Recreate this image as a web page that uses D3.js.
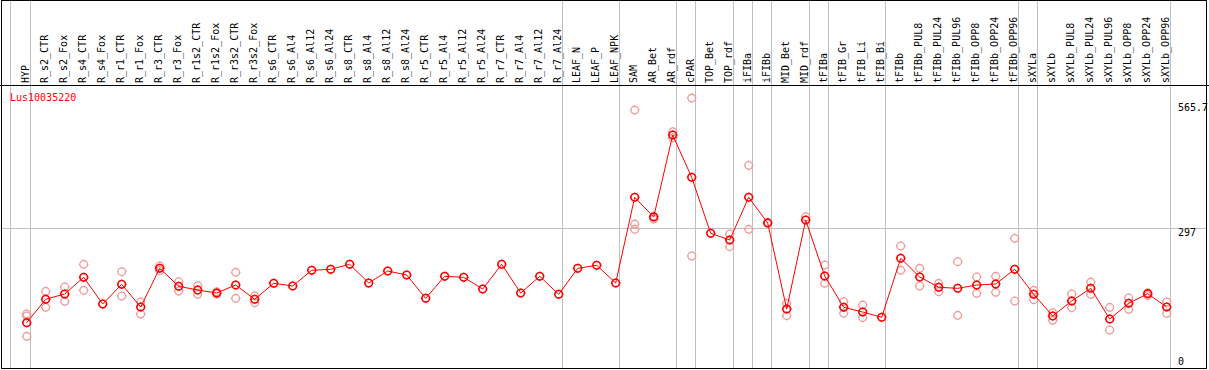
<!DOCTYPE html>
<html>
<head>
<meta charset="utf-8">
<style>
    body { margin: 0; background: #fff; }
    svg { font: 10px "DejaVu Sans Mono", monospace; display: block; }
    .lab { fill: #000; }
    .sep { stroke: #c0c0c0; stroke-width: 1px; shape-rendering: crispEdges; }
    .frame { fill: none; stroke: #000; stroke-width: 1px; shape-rendering: crispEdges; }
    .line { fill: none; stroke: #f00; stroke-width: 1px; }
</style>
<script src="https://cdn.jsdelivr.net/npm/d3@7"></script>
</head>
<body>
<div id="chart"></div>
<script>
    var geneName = "Lus10035220";

    var labels = ["HYP", "R_s2_CTR", "R_s2_Fox", "R_s4_CTR", "R_s4_Fox", "R_r1_CTR", "R_r1_Fox",
        "R_r3_CTR", "R_r3_Fox", "R_r1s2_CTR", "R_r1s2_Fox", "R_r3s2_CTR", "R_r3s2_Fox",
        "R_s6_CTR", "R_s6_Al4", "R_s6_Al12", "R_s6_Al24", "R_s8_CTR", "R_s8_Al4", "R_s8_Al12", "R_s8_Al24",
        "R_r5_CTR", "R_r5_Al4", "R_r5_Al12", "R_r5_Al24", "R_r7_CTR", "R_r7_Al4", "R_r7_Al12", "R_r7_Al24",
        "LEAF_N", "LEAF_P", "LEAF_NPK", "SAM", "AR_Bet", "AR_rdf", "cPAR", "TOP_Bet", "TOP_rdf",
        "iFIBa", "iFIBb", "MID_Bet", "MID_rdf", "tFIBa", "tFIB_Gr", "tFIB_Li", "tFIB_Bi", "tFIBb",
        "tFIBb_PUL8", "tFIBb_PUL24", "tFIBb_PUL96", "tFIBb_OPP8", "tFIBb_OPP24", "tFIBb_OPP96",
        "sXYLa", "sXYLb", "sXYLb_PUL8", "sXYLb_PUL24", "sXYLb_PUL96", "sXYLb_OPP8", "sXYLb_OPP24", "sXYLb_OPP96"];

    // mean expression per sample
    var means = [93.0, 143.3, 154.7, 190.5, 133.2, 175.5, 126.7, 209.9, 171.2, 163.3, 156.8, 174, 143.3,
        177.7, 171.9, 205.6, 207.7, 218.5, 178.3, 204.1, 195.5, 145.4, 192.7, 190.5, 165.4, 218.5, 156.8, 192.7, 154,
        209.9, 216.3, 178.3, 362.4, 320.1, 496.2, 405.4, 285.1, 270.7, 362.4, 307.2, 122.4, 313.6,
        193.3, 126.1, 116, 104.6, 231.4, 191.2, 169.1, 166.9, 174, 176.2, 207.7,
        154, 107.4, 139.6, 166.9, 101, 134.7, 155.3, 126.7];

    // individual replicates
    var replicates = [[111.7, 107.4, 63.8], [160.5, 126.1], [169.7, 139], [218.5, 162.6], [], [202.6, 150.4], [137.5, 111.7],
        [214.8, 204.7], [181.1, 161.1], [172.5, 154], [159.6, 154.7], [201.3, 145.4], [150.4, 136],
        [], [], [], [], [], [], [], [],
        [], [], [], [], [], [], [], [],
        [], [], [], [549.9, 305, 293.7], [315.8, 322], [503.3, 490.4], [575.7, 236.3], [], [283.6, 256.3],
        [431.1, 293.7], [308.7], [134.7, 108.1], [320.7], [217, 177.7], [138.1, 113.2], [131, 103.8], [], [257.8, 205.6],
        [209.9, 171.9], [177.7, 159.6], [224.1, 108.9], [191.2, 156.2], [192.7, 158.3], [274.3, 139.6],
        [162.6, 142.4], [114.5, 98.2], [154.7, 125.2], [180.4, 154], [126.1, 77.3], [146.1, 121.8], [157.5, 151], [137.5, 113.2]];

    // last sample of each group (separators drawn after these)
    var groupEnds = ["HYP", "R_r7_Al24", "LEAF_NPK", "AR_rdf", "cPAR", "TOP_rdf", "iFIBa", "iFIBb",
        "MID_rdf", "tFIBa", "tFIB_Bi", "tFIBb_OPP96", "sXYLa", "sXYLb_OPP96"];

    var yTicks = [0, 297, 565.7];

    var width = 1209, height = 370;

    var x = d3.scalePoint()
        .domain(labels)
        .range([26.7, 1166.7]);

    var y = d3.scaleLinear()
        .domain([0, 565.7])
        .range([366, 102.7]);

    var svg = d3.select("#chart").append("svg")
        .attr("width", width)
        .attr("height", height);

    // separators
    svg.append("line").attr("class", "sep")
        .attr("x1", 10.5).attr("x2", 10.5).attr("y1", 0).attr("y2", 368);
    svg.selectAll(".vsep").data(groupEnds).enter().append("line")
        .attr("class", "sep")
        .attr("x1", function (d) { return Math.round(x(d) + 3.5) + 0.5; })
        .attr("x2", function (d) { return Math.round(x(d) + 3.5) + 0.5; })
        .attr("y1", 0).attr("y2", 368);

    svg.selectAll(".hgrid").data([297]).enter().append("line")
        .attr("class", "sep")
        .attr("x1", 1).attr("x2", 1207)
        .attr("y1", function (d) { return Math.round(y(d)) + 0.5; })
        .attr("y2", function (d) { return Math.round(y(d)) + 0.5; });

    // frame
    svg.append("rect").attr("class", "frame")
        .attr("x", 1.5).attr("y", 0.5).attr("width", 1205).attr("height", 367.5);
    svg.append("line").attr("class", "frame")
        .attr("x1", 0).attr("x2", width).attr("y1", 85.5).attr("y2", 85.5);

    // rotated sample labels
    svg.selectAll(".lab").data(labels).enter().append("text")
        .attr("class", "lab")
        .attr("transform", function (d) { return "translate(" + (x(d) + 1.8) + ",83) rotate(-90)"; })
        .text(function (d) { return d; });

    // y labels on the right
    svg.selectAll(".ylab").data(yTicks).enter().append("text")
        .attr("x", 1178)
        .attr("y", function (d) { return d === 0 ? 365 : y(d) + 8; })
        .text(function (d) { return d; });

    svg.append("text")
        .attr("x", 10).attr("y", 101)
        .attr("fill", "#f00")
        .text(geneName);

    // marker: open circle with four small nubs
    function marker(r) {
        var p = d3.path();
        p.moveTo(r, 0);
        p.arc(0, 0, r, 0, 2 * Math.PI);
        [[0, -1], [0, 1], [-1, 0], [1, 0]].forEach(function (v) {
            p.moveTo(v[0] * r, v[1] * r);
            p.lineTo(v[0] * (r + 1), v[1] * (r + 1));
        });
        return p.toString();
    }

    var reps = [];
    replicates.forEach(function (list, i) {
        list.forEach(function (v) { reps.push({ k: labels[i], v: v }); });
    });

    svg.selectAll(".rep").data(reps).enter().append("path")
        .attr("d", marker(3.8))
        .attr("transform", function (d) { return "translate(" + x(d.k) + "," + y(d.v) + ")"; })
        .attr("fill", "none")
        .attr("stroke", "#f09a9a")
        .attr("stroke-width", 1.3);

    var line = d3.line()
        .x(function (d, i) { return x(labels[i]); })
        .y(function (d) { return y(d); });

    svg.append("path")
        .datum(means)
        .attr("class", "line")
        .attr("d", line);

    svg.selectAll(".mean").data(means).enter().append("path")
        .attr("d", marker(3.8))
        .attr("transform", function (d, i) { return "translate(" + x(labels[i]) + "," + y(d) + ")"; })
        .attr("fill", "none")
        .attr("stroke", "#f00")
        .attr("stroke-width", 1.6);
</script>
</body>
</html>
